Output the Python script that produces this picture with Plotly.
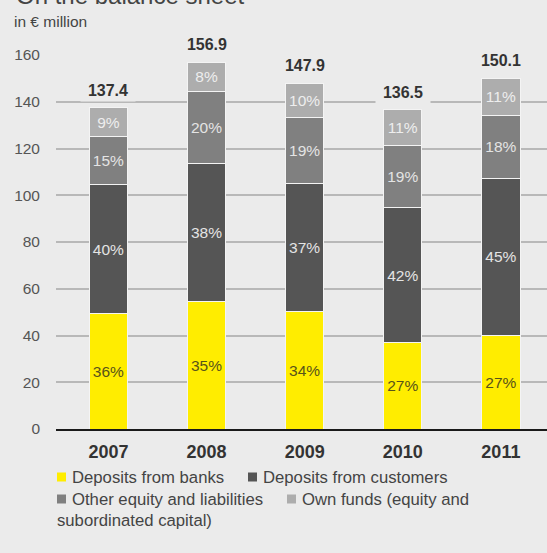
import plotly.graph_objects as go

# Balance sheet composition, € million
years = ["2007", "2008", "2009", "2010", "2011"]
deposits_banks = [49.5, 54.5, 50.3, 36.9, 40.2]
deposits_customers = [54.9, 59.0, 54.7, 57.8, 67.0]
other_equity = [20.6, 31.0, 28.1, 26.4, 27.0]
own_funds = [12.4, 12.4, 14.8, 15.4, 15.9]

series_names = [
    "Deposits from banks",
    "Deposits from customers",
    "Other equity and liabilities",
    "Own funds (equity and subordinated capital)",
]
y_ticks = [0, 20, 40, 60, 80, 100, 120, 140, 160]

BG = "#ebebeb"
FONT = "Liberation Sans, Arial, sans-serif"
colors = ["#ffed00", "#555555", "#808080", "#adadad"]
text_colors = ["#58531a", "#e4e4e4", "#e4e4e4", "#eeeeee"]

series = [deposits_banks, deposits_customers, other_equity, own_funds]
totals = [sum(v) for v in zip(*series)]

W, H = 547, 553
ML, MR, MT, MB = 56, 0, 55, 124
PW, PH = W - ML - MR, H - MT - MB


def px(x):
    return (x - ML) / PW


def py(y):
    return (H - MB - y) / PH


fig = go.Figure()
for name, vals, col, tcol in zip(series_names, series, colors, text_colors):
    labels = [f"{int(v / t * 100 + 0.5)}%" for v, t in zip(vals, totals)]
    fig.add_bar(
        x=years, y=vals, name=name, width=0.39,
        marker=dict(color=col, line=dict(color="#f4f4f4", width=1)),
        text=labels, textposition="inside", insidetextanchor="middle",
        textangle=0, constraintext="none",
        textfont=dict(family=FONT, size=15.5, color=tcol),
        showlegend=False, hoverinfo="skip",
    )

annotations = []
# totals above each column, with a background box that breaks the gridlines
for i, tot in enumerate(totals):
    annotations.append(dict(
        x=i, y=tot, xref="x", yref="y", text=f"<b>{tot:.1f}</b>",
        showarrow=False, yanchor="middle", yshift=18,
        font=dict(family=FONT, size=16, color="#333333"),
        bgcolor=BG, width=54, height=22, borderpad=0,
    ))

annotations.append(dict(
    x=px(14), y=py(11), xref="paper", yref="paper", xanchor="left", yanchor="bottom",
    text="On the balance sheet", showarrow=False,
    font=dict(family=FONT, size=24, color="#444444"),
))
annotations.append(dict(
    x=px(12), y=py(21), xref="paper", yref="paper", xanchor="left", yanchor="middle",
    text="in € million", showarrow=False,
    font=dict(family=FONT, size=15.5, color="#444444"),
))

# legend drawn as swatches plus labels
legend_items = [
    (57, 71, 477, series_names[0], colors[0]),
    (248, 262, 477, series_names[1], colors[1]),
    (57, 71, 499, series_names[2], colors[2]),
    (287, 301, 499, "Own funds (equity and", colors[3]),
]
shapes = []
for sx, tx, cy, label, col in legend_items:
    shapes.append(dict(
        type="rect", xref="paper", yref="paper",
        x0=px(sx), x1=px(sx + 9), y0=py(cy + 4.5), y1=py(cy - 4.5),
        fillcolor=col, line=dict(width=0),
    ))
    annotations.append(dict(
        x=px(tx - 1), y=py(cy), xref="paper", yref="paper", xanchor="left",
        yanchor="middle", text=label, showarrow=False,
        font=dict(family=FONT, size=16.7, color="#444444"),
    ))
annotations.append(dict(
    x=px(55), y=py(520), xref="paper", yref="paper", xanchor="left",
    yanchor="middle", text="subordinated capital)", showarrow=False,
    font=dict(family=FONT, size=16.7, color="#444444"),
))

fig.update_layout(
    width=W, height=H, barmode="stack",
    margin=dict(l=ML, r=MR, t=MT, b=MB),
    paper_bgcolor=BG, plot_bgcolor=BG,
    font=dict(family=FONT),
    annotations=annotations, shapes=shapes,
    xaxis=dict(
        type="category", range=[-0.535, 4.47], showgrid=False,
        showline=True, linecolor="#1a1a1a", linewidth=2,
        tickfont=dict(family=FONT, size=18, color="#333333", weight="bold"),
        ticks="", ticklabelstandoff=5, fixedrange=True,
    ),
    yaxis=dict(
        range=[0, 160], tickvals=y_ticks, showgrid=True,
        gridcolor="#b8b8b8", gridwidth=2, zeroline=False, showline=False,
        tickfont=dict(family=FONT, size=15.5, color="#555555"),
        ticks="", ticklabelstandoff=15, fixedrange=True,
    ),
)

fig.write_html("out.html")
